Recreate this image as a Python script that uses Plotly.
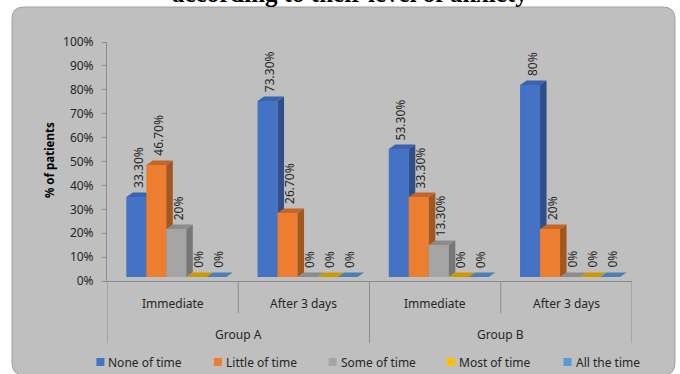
import plotly.graph_objects as go

# ---- data -------------------------------------------------------------
groups = ["Group A", "Group B"]
periods = ["Immediate", "After 3 days", "Immediate", "After 3 days"]
series_names = ["None of time", "Little of time", "Some of time", "Most of time", "All the time"]
none_of_time = [33.3, 73.3, 53.3, 80.0]
little_of_time = [46.7, 26.7, 33.3, 20.0]
some_of_time = [20.0, 0.0, 13.3, 0.0]
most_of_time = [0.0, 0.0, 0.0, 0.0]
all_the_time = [0.0, 0.0, 0.0, 0.0]
y_ticks = [0, 10, 20, 30, 40, 50, 60, 70, 80, 90, 100]

series_values = [none_of_time, little_of_time, some_of_time, most_of_time, all_the_time]

# ---- styling ----------------------------------------------------------
FONT = "Noto Sans"
TXT = "#262626"
AXIS = "#8c8c8c"
front_colors = ["#4472C4", "#ED7D31", "#A5A5A5", "#FFC000", "#5B9BD5"]
side_colors = ["#2F4F8C", "#A4561F", "#777777", "#B08500", "#3F6E9A"]
top_colors = ["#3A62AE", "#C6652A", "#8C8C8C", "#CC9A00", "#4A80B4"]

W, H = 680, 374
PL, PR, PT, PB = 107, 632, 42, 281          # plot area in pixels
n_cat = len(periods)
cat_px = (PR - PL) / n_cat                  # pixels per category
px_per_pct = 2.40                           # vertical scale of the bar plane
front_lift = 4                              # bar plane sits slightly above the floor line

bar_gap_px, bar_w_px = 19.3, 20.0
depth_x_px, depth_y_px = 6.5, 4.5
ddx = depth_x_px / cat_px
ddy = depth_y_px / px_per_pct
y2_lo = -front_lift / px_per_pct
y2_hi = y2_lo + (PB - PT) / px_per_pct


def xp(px):
    return (px - PL) / (PR - PL)


def yp(py):
    return (PB - py) / (PB - PT)


def fmt(v):
    return f"{v:g}%" if float(v).is_integer() else f"{v:.2f}%"


fig = go.Figure()
annotations = []

# empty trace so the percentage axis is laid out with its ticks
fig.add_trace(go.Scatter(x=[None], y=[None], mode="markers", showlegend=False,
                         hoverinfo="skip"))

# ---- 3D-style bars: front, side and top faces per series ---------------
for i, (name, vals) in enumerate(zip(series_names, series_values)):
    fx, fy, sx, sy, tx, ty = [], [], [], [], [], []
    for k, v in enumerate(vals):
        xl = k + (bar_gap_px + bar_w_px * i) / cat_px
        xr = xl + bar_w_px / cat_px
        fx += [xl, xr, xr, xl, xl, None]
        fy += [0, 0, v, v, 0, None]
        sx += [xr, xr + ddx, xr + ddx, xr, xr, None]
        sy += [0, ddy, v + ddy, v, 0, None]
        tx += [xl, xl + ddx, xr + ddx, xr, xl, None]
        ty += [v, v + ddy, v + ddy, v, v, None]
        annotations.append(dict(
            x=(xl + xr) / 2 + 2.0 / cat_px, y=v, xref="x", yref="y2",
            text=fmt(v), textangle=-90, showarrow=False,
            xanchor="center", yanchor="bottom", yshift=7,
            font=dict(family=FONT, size=12, color=TXT)))
    for xs, ys, col in ((fx, fy, front_colors[i]), (sx, sy, side_colors[i]), (tx, ty, top_colors[i])):
        fig.add_trace(go.Scatter(
            x=xs, y=ys, mode="none", fill="toself", fillcolor=col,
            yaxis="y2", hoverinfo="skip", showlegend=False, name=name))

# ---- category labels and dividers ---------------------------------------
shapes = []
for k, p in enumerate(periods):
    annotations.append(dict(x=k + 0.5, y=0, xref="x", yref="paper", yshift=-22.5,
                            text=p, showarrow=False, yanchor="middle",
                            font=dict(family=FONT, size=12, color=TXT)))
for g, name in enumerate(groups):
    annotations.append(dict(x=2 * g + 1, y=0, xref="x", yref="paper", yshift=-53.5,
                            text=name, showarrow=False, yanchor="middle",
                            font=dict(family=FONT, size=12, color=TXT)))
for b in range(n_cat + 1):
    depth = 62 if b % 2 == 0 else 32
    shapes.append(dict(type="line", xref="x", x0=b, x1=b, yref="paper",
                       ysizemode="pixel", yanchor=0, y0=0, y1=-depth,
                       line=dict(color=AXIS, width=1), layer="above"))

# ---- legend row -----------------------------------------------------------
legend_left = [96.4, 213.9, 328.6, 447.0, 563.5]
for i, name in enumerate(series_names):
    x0 = legend_left[i]
    shapes.append(dict(type="rect", xref="paper", yref="paper",
                       x0=xp(x0), x1=xp(x0 + 8), y0=yp(358), y1=yp(366),
                       fillcolor=front_colors[i], line=dict(width=0)))
    annotations.append(dict(x=xp(x0 + 10), y=yp(362), xref="paper", yref="paper",
                            text=name, showarrow=False, xanchor="left", yanchor="middle",
                            font=dict(family=FONT, size=12, color=TXT)))

# ---- chart frame with rounded corners -------------------------------------
bx0, by0, bx1, by1, r = 12, 7, 675, 375, 12
pts = [
    ("M", bx0 + r, by0), ("L", bx1 - r, by0), ("Q", bx1, by0, bx1, by0 + r),
    ("L", bx1, by1 - r), ("Q", bx1, by1, bx1 - r, by1),
    ("L", bx0 + r, by1), ("Q", bx0, by1, bx0, by1 - r),
    ("L", bx0, by0 + r), ("Q", bx0, by0, bx0 + r, by0),
]
path = ""
for p in pts:
    cmd, coords = p[0], p[1:]
    pairs = [f"{xp(coords[j]):.5f},{yp(coords[j + 1]):.5f}" for j in range(0, len(coords), 2)]
    path += cmd + " ".join(pairs) + " "
path += "Z"
shapes.insert(0, dict(type="path", path=path, xref="paper", yref="paper",
                      fillcolor="#bfbfbf", line=dict(color="#a0a0a0", width=1), layer="below"))

# y-axis title
annotations.append(dict(x=xp(49), y=yp(160), xref="paper", yref="paper",
                        text="<b>% of patients</b>", textangle=-90, showarrow=False,
                        xanchor="center", yanchor="middle",
                        font=dict(family=FONT, size=11.5, color="#000000")))

# title line, running off the top edge of the page
annotations.append(dict(x=xp(350), y=yp(9), xref="paper", yref="paper",
                        text="<b>according to their level of anxiety</b>", showarrow=False,
                        yanchor="bottom", font=dict(family="Liberation Serif", size=25, color="#000000")))

fig.update_layout(
    width=W, height=H,
    margin=dict(l=PL, r=W - PR, t=PT, b=H - PB, pad=0),
    paper_bgcolor="#ffffff", plot_bgcolor="rgba(0,0,0,0)",
    showlegend=False,
    xaxis=dict(range=[0, n_cat], showgrid=False, zeroline=False, showticklabels=False,
               ticks="", showline=True, linecolor=AXIS, linewidth=1, fixedrange=True),
    yaxis=dict(range=[0, 100], tickmode="array", tickvals=y_ticks,
               ticktext=[f"{t}%" for t in y_ticks],
               showgrid=False, zeroline=False, showline=True, linecolor=AXIS, linewidth=1,
               ticks="outside", ticklen=4, tickcolor=AXIS, ticklabelstandoff=6,
               tickfont=dict(family=FONT, size=12, color=TXT)),
    yaxis2=dict(range=[y2_lo, y2_hi], overlaying="y", visible=False, showgrid=False,
                zeroline=False),
    shapes=shapes, annotations=annotations,
)

fig.write_html("out.html")
